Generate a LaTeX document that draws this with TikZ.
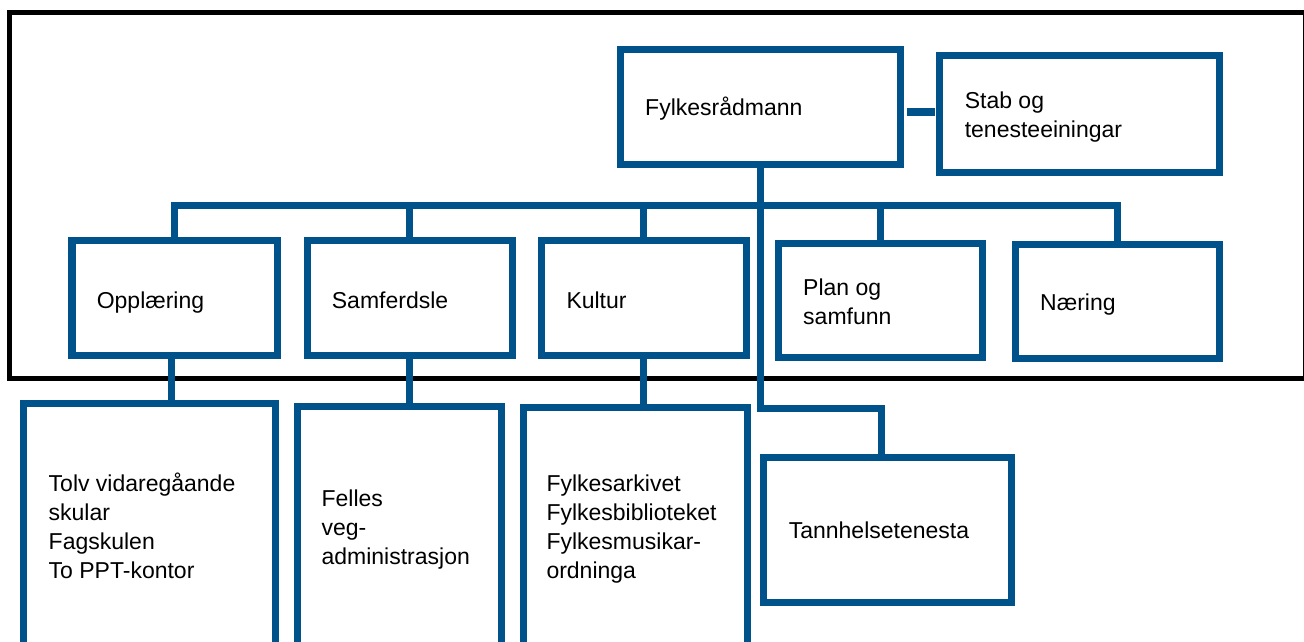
\documentclass[tikz,border=0pt]{standalone}
\usepackage{fontspec}
\setmainfont{Liberation Sans}
\usetikzlibrary{calc}
\definecolor{orgblue}{HTML}{00528A}
\newcommand\txtstack[1]{\vtop{\baselineskip=29bp\lineskiplimit=-100bp\halign{##\hfil\cr#1\crcr}}}
\begin{document}
\begin{tikzpicture}[x=1bp,y=-1bp,
  box/.style={draw=orgblue,line width=7bp,inner sep=0pt,outer sep=0pt,rectangle},
  conn/.style={draw=orgblue,line width=7bp},
  lbl/.style={anchor=base west,inner sep=0pt,font=\fontsize{23bp}{29bp}\selectfont}]
\useasboundingbox (0,0) rectangle (1304,642);
\clip (0,0) rectangle (1304,642);
\fill[white] (0,0) rectangle (1304,642);
% outer frame
\draw[black,line width=5bp] (9,12.5) rectangle (1305,378.5);
% boxes
\node[box,minimum width=279.5bp,minimum height=114.8bp] (f) at (760.25,107.1) {};
\node[box,minimum width=280bp,minimum height=116bp] (stab) at (1079.5,114) {};
\node[box,minimum width=205bp,minimum height=114.7bp] (opp) at (174.5,298.3) {};
\node[box,minimum width=205bp,minimum height=114.7bp] (samf) at (409.5,298.3) {};
\node[box,minimum width=204.5bp,minimum height=114.7bp] (kult) at (643.75,298.3) {};
\node[box,minimum width=204bp,minimum height=114bp] (plan) at (880.5,300) {};
\node[box,minimum width=204.5bp,minimum height=114bp] (naer) at (1117.25,301) {};
\node[box,minimum width=251bp,minimum height=296.7bp] (tolv) at (149.5,551.65) {};
\node[box,minimum width=204bp,minimum height=293.3bp] (felles) at (399,553.35) {};
\node[box,minimum width=223.5bp,minimum height=293bp] (arkiv) at (635.25,553.5) {};
\node[box,minimum width=247.5bp,minimum height=145.4bp] (tann) at (887.25,530) {};
% connectors
\coordinate (bus) at (0,205.3);
\coordinate (tj) at (881,408.7);
\draw[conn] (opp.north) -- (opp.north |- bus) -- (naer.north |- bus) -- (naer.north);
\draw[conn] (samf.north |- bus) -- (samf.north);
\draw[conn] (kult.north |- bus) -- (kult.north);
\draw[conn] (plan.north |- bus) -- (plan.north);
\draw[conn] (f.south) -- (f.south |- tj) -- (tj) -- (tj |- tann.north);
\draw[orgblue,line width=8bp] ($(f.east |- 0,112.5)+(6.7,0)$) -- ($(stab.west |- 0,112.5)+(-5,0)$);
\coordinate (o1) at ($(opp.south)+(-3,0)$);
\draw[conn] (o1) -- (o1 |- tolv.north);
\draw[conn] (samf.south) -- (samf.south |- felles.north);
\draw[conn] (kult.south) -- (kult.south |- arkiv.north);
% texts
\node[lbl] (f-t) at (645,115.7) {Fylkesrådmann};
\node[lbl] (stab-t) at (964.6,108.3) {\txtstack{Stab og\cr tenesteeiningar}};
\node[lbl] (opp-t) at (96.6,308.3) {Opplæring};
\node[lbl] (samf-t) at (331.7,308.3) {Samferdsle};
\node[lbl] (kult-t) at (566.3,308.3) {Kultur};
\node[lbl] (plan-t) at (803,295) {\txtstack{Plan og\cr samfunn}};
\node[lbl] (naer-t) at (1040,310) {Næring};
\node[lbl] (tolv-t) at (48.5,491.7) {\txtstack{Tolv vidaregåande\cr skular\cr Fagskulen\cr To PPT-kontor}};
\node[lbl] (felles-t) at (321.4,506.7) {\txtstack{Felles\cr veg-\cr administrasjon}};
\node[lbl] (arkiv-t) at (546.3,491.7) {\txtstack{Fylkesarkivet\cr Fylkesbiblioteket\cr Fylkesmusikar-\cr ordninga}};
\node[lbl] (tann-t) at (788.6,538.3) {Tannhelsetenesta};
\end{tikzpicture}
\end{document}
